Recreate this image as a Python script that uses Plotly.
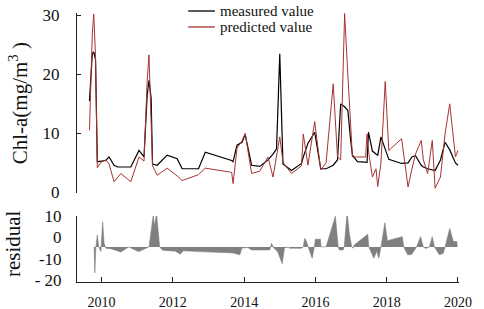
import plotly.graph_objects as go

# ---- data ----
dates = [2009.66, 2009.74, 2009.78, 2009.83, 2009.88, 2009.98, 2010.12, 2010.21, 2010.35, 2010.45,
         2010.54, 2010.82, 2011.05, 2011.19, 2011.28, 2011.33, 2011.39, 2011.43, 2011.56, 2011.84,
         2012.12, 2012.26, 2012.72, 2012.91, 2013.65, 2013.69, 2013.80, 2013.94, 2014.03, 2014.21,
         2014.44, 2014.67, 2014.81, 2014.91, 2015.00, 2015.09, 2015.33, 2015.61, 2015.66, 2015.79,
         2015.98, 2016.15, 2016.30, 2016.50, 2016.62, 2016.71, 2016.82, 2016.91, 2016.99, 2017.04,
         2017.18, 2017.41, 2017.45, 2017.49, 2017.60, 2017.70, 2017.75, 2017.84, 2017.96, 2018.06,
         2018.42, 2018.60, 2018.71, 2018.81, 2018.97, 2019.03, 2019.15, 2019.28, 2019.36, 2019.51,
         2019.64, 2019.77, 2019.93, 2020.00]
measured = [15.5, 23.5, 23.8, 22.5, 5.2, 5.3, 5.4, 6.0, 4.6, 4.3,
            4.3, 4.3, 7.1, 6.0, 16.5, 19.0, 16.0, 4.8, 4.6, 6.3,
            5.7, 4.0, 4.0, 6.8, 5.4, 5.2, 8.0, 8.5, 9.8, 4.6,
            4.4, 5.5, 6.5, 7.4, 23.5, 4.8, 3.7, 4.9, 6.0, 8.3,
            10.2, 4.0, 4.0, 4.6, 5.5, 15.0, 14.5, 13.9, 8.8, 6.3,
            5.2, 5.1, 5.1, 10.2, 7.0, 6.5, 6.3, 9.4, 7.5, 5.6,
            4.9, 5.0, 6.0, 6.2, 4.6, 4.3, 4.0, 3.8, 3.7, 5.5,
            8.5, 7.2, 5.0, 4.6]
predicted = [10.5, 27.0, 30.2, 23.0, 4.2, 5.1, 5.5, 4.8, 1.8, 2.5,
             3.2, 1.8, 6.0, 5.3, 19.0, 23.3, 12.0, 4.5, 2.9, 4.1,
             2.8, 2.0, 3.0, 4.1, 3.4, 1.5, 7.5, 8.7, 10.0, 3.2,
             3.6, 6.0, 2.6, 6.0, 9.4, 5.1, 3.2, 4.5, 9.9, 4.6,
             12.0, 3.8, 5.0, 18.4, 6.0, 5.5, 30.3, 20.0, 10.8, 6.0,
             6.0, 6.0, 9.9, 7.0, 2.6, 4.0, 1.0, 5.0, 18.8, 7.1,
             9.1, 0.9, 4.0, 6.5, 8.8, 5.5, 3.2, 8.8, 0.7, 2.6,
             10.0, 15.0, 6.0, 7.1]

resid_dates = [2009.79, 2009.81, 2009.84, 2009.88, 2009.92, 2009.98, 2010.03, 2010.07, 2010.12, 2010.26,
               2010.54, 2010.76, 2010.82, 2011.04, 2011.26, 2011.33, 2011.45, 2011.49, 2011.54, 2011.63,
               2011.71, 2012.07, 2012.21, 2012.29, 2012.77, 2013.18, 2013.69, 2013.88, 2013.94, 2014.10,
               2014.21, 2014.72, 2014.77, 2014.83, 2014.94, 2015.07, 2015.13, 2015.25, 2015.27, 2015.61,
               2015.66, 2015.70, 2015.75, 2015.80, 2015.91, 2015.97, 2016.00, 2016.14, 2016.16, 2016.30,
               2016.56, 2016.64, 2016.67, 2016.78, 2016.81, 2016.89, 2016.95, 2017.02, 2017.06, 2017.09,
               2017.47, 2017.50, 2017.64, 2017.72, 2017.78, 2017.84, 2017.95, 2018.02, 2018.44, 2018.48,
               2018.59, 2018.70, 2018.84, 2018.95, 2019.03, 2019.09, 2019.20, 2019.28, 2019.34, 2019.48,
               2019.59, 2019.64, 2019.77, 2019.87, 2019.97, 2019.98]
residual = [0, -12.2, 0, 5.6, 0, -2.2, 11.8, 1.7, -0.6, -0.8,
            -2.4, 0, -0.5, -2.2, -0.5, 0, 14.9, 9.5, 16.0, 0,
            -1.5, -2.0, -3.4, -1.8, -2.2, -2.4, -2.8, -3.7, -0.5, -0.3,
            -1.4, -1.4, 1.7, -0.5, -2.2, -7.9, -0.5, 0, -0.6, -0.6,
            0, 4.0, 2.5, 0, -5.3, 0, 3.6, 3.6, 0, 0,
            14.4, 0, -1.4, -1.4, 0, 16.4, 6.4, 0, -0.6, 0.9,
            6.0, 0, -5.3, -2.0, -5.3, 0, 11.3, 2.9, 4.8, 0,
            -3.7, -3.5, 0, 4.8, 0, -0.7, 0, 4.8, 0, -3.7,
            -3.0, 0, 8.7, 2.5, 2.5, 0]
RESID_ZERO = -4.5   # level at which the residual panel draws its zero

x_ticks = [2010, 2012, 2014, 2016, 2018, 2020]
top_ticks = [0, 10, 20, 30]
bottom_ticks = [10, 0, -10, -20]
bottom_ticktext = ["10", "0", "-10", "- 20"]
series_names = ["measured value", "predicted value"]
series_colors = ["black", "#A83232"]

FONT = "Liberation Serif"

fig = go.Figure()
fig.add_trace(go.Scatter(x=dates, y=measured, mode="lines", name=series_names[0],
                         line=dict(color=series_colors[0], width=1.2), xaxis="x", yaxis="y"))
fig.add_trace(go.Scatter(x=dates, y=predicted, mode="lines", name=series_names[1],
                         line=dict(color=series_colors[1], width=1), xaxis="x", yaxis="y"))
fig.add_trace(go.Scatter(x=resid_dates, y=[r + RESID_ZERO for r in residual], mode="lines",
                         fill="toself", fillcolor="#808080",
                         line=dict(color="#808080", width=0.6), showlegend=False,
                         xaxis="x", yaxis="y2"))

# legend drawn by hand (compact spacing, as in the reference);
# horizontal placement given on the time axis
LEG_X0, LEG_X1, LEG_TX = 2012.43, 2013.18, 2013.27
legend_y = [1.0074, 0.948]
shapes = []
annotations = []
for name, col, ly in zip(series_names, series_colors, legend_y):
    shapes.append(dict(type="line", xref="x", yref="paper", x0=LEG_X0, x1=LEG_X1,
                       y0=ly, y1=ly, line=dict(color=col, width=1.3)))
    annotations.append(dict(text=name, xref="x", yref="paper", x=LEG_TX, y=ly,
                            xanchor="left", yanchor="middle", showarrow=False,
                            font=dict(size=15, family=FONT, color="#111")))

annotations += [
    dict(text="Chl-a(mg/m<sup>3</sup> )", xref="paper", yref="paper",
         x=-0.154, y=0.665, xanchor="center", yanchor="middle",
         textangle=-90, showarrow=False, font=dict(size=21, family=FONT)),
    dict(text="residual", xref="paper", yref="paper",
         x=-0.1675, y=0.141, xanchor="center", yanchor="middle",
         textangle=-90, showarrow=False, font=dict(size=21, family=FONT)),
]

fig.update_layout(
    width=484, height=309,
    margin=dict(l=77, r=25, t=13, b=27, autoexpand=False),
    paper_bgcolor="white", plot_bgcolor="white",
    font=dict(family=FONT, color="#111"),
    showlegend=False,
    xaxis=dict(domain=[0, 1], range=[2009.31, 2020.03], anchor="y2",
               showline=True, linecolor="#222", linewidth=1,
               ticks="inside", ticklen=5, tickcolor="#222",
               tickvals=x_ticks, tickfont=dict(size=14, family=FONT),
               ticklabelstandoff=7, ticklabeloverflow="allow",
               showgrid=False, zeroline=False),
    yaxis=dict(domain=[0.331, 1], range=[-0.1, 30.4], anchor="x",
               showline=True, linecolor="#222", linewidth=1,
               ticks="inside", ticklen=4, tickcolor="#222",
               tickvals=top_ticks, tickfont=dict(size=17, family=FONT),
               ticklabelstandoff=13, ticklabeloverflow="allow",
               showgrid=False, zeroline=False),
    yaxis2=dict(domain=[0, 0.2454], range=[-20.94, 10.0], anchor="x",
                showline=True, linecolor="#222", linewidth=1,
                ticks="", tickvals=bottom_ticks, ticktext=bottom_ticktext,
                tickfont=dict(size=17, family=FONT),
                ticklabelstandoff=11, ticklabeloverflow="allow",
                showgrid=False, zeroline=False),
    shapes=shapes,
    annotations=annotations,
)

# remove the page's default 8px body margin so the figure fills the window
fig.write_html("out.html", config={"displayModeBar": False},
               post_script="document.body.style.margin='0px';")
